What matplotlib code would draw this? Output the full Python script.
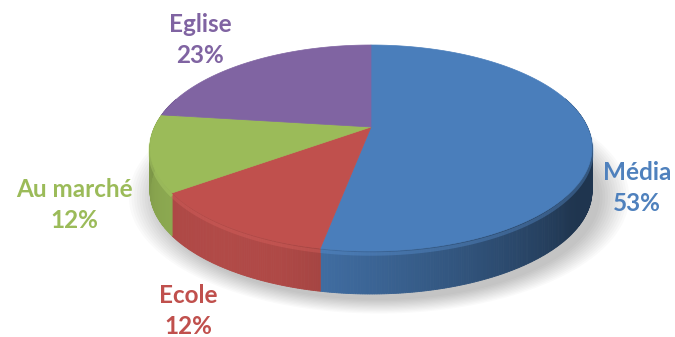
import numpy as np
import matplotlib
matplotlib.use("Agg")
import matplotlib.pyplot as plt
from matplotlib.patches import Polygon
from matplotlib.colors import to_rgb

# ---- data ----
categories = ["Média", "Ecole", "Au marché", "Eglise"]
values = [53, 12, 12, 23]
colors = ["#4A7EBB", "#C0504D", "#9BBB59", "#8064A2"]
label_colors = ["#4F81BD", "#C0504D", "#9BBB59", "#8064A2"]

# ---- layout ----
W, H = 675, 337
cx, cy, rx, ry = 371, 148, 221, 103
t = 0.204          # perspective shift of the pie centre
depth = 43
label_pos = [(637, 188), (188, 311), (74, 205), (200, 40)]

fig = plt.figure(figsize=(W / 100, H / 100), dpi=100)
ax = fig.add_axes([0, 0, 1, 1])
ax.set_xlim(0, W)
ax.set_ylim(H, 0)
ax.axis("off")

s = np.sqrt(1 - t * t)


def proj(theta_deg, r=1.0, dy=0.0):
    th = np.radians(theta_deg)
    u = r * np.cos(th)
    v = r * np.sin(th)
    den = 1 + t * v
    vp = (v + t) / den
    up = u * s / den
    return cx + rx * up, cy - ry * vp + dy


# soft shadow
for k in range(12):
    a = 0.018
    sc = 1.0 + k * 0.012
    th = np.linspace(0, 360, 200)
    xs, ys = proj(th)
    xs = cx + 8 + (xs - cx) * sc
    ys = cy + depth + 6 + (ys - cy) * sc
    ax.add_patch(Polygon(np.c_[xs, ys], closed=True, color="black", alpha=a, lw=0, zorder=0))

total = sum(values)
start = 90.0
wedges = []
for val, col in zip(values, colors):
    sweep = 360.0 * val / total
    wedges.append((start, start - sweep, col))
    start -= sweep

# sides
for a0, a1, col in wedges:
    base = np.array(to_rgb(col))
    ths = np.linspace(a0, a1, max(int(abs(a1 - a0) * 2), 4))
    for i in range(len(ths) - 1):
        tA, tB = ths[i], ths[i + 1]
        mid = np.radians(0.5 * (tA + tB))
        if np.sin(mid) > 0.3:
            continue
        # light from front-left
        shade = 0.62 + 0.30 * max(0, np.cos(mid - np.radians(235)))
        shade -= 0.20 * max(0, np.cos(mid - np.radians(-20)))
        c = np.clip(base * shade, 0, 1)
        xa, ya = proj(tA)
        xb, yb = proj(tB)
        poly = [(xa, ya), (xb, yb), (xb, yb + depth), (xa, ya + depth)]
        ax.add_patch(Polygon(poly, closed=True, facecolor=c, edgecolor=c, lw=0.6, zorder=2))
    # highlight rim
    xs, ys = proj(ths)
    ax.plot(xs, ys + 3, color=np.clip(base * 1.1 + 0.05, 0, 1), lw=2.5, alpha=0.35, zorder=3,
            solid_capstyle="butt")

# tops
for a0, a1, col in wedges:
    ths = np.linspace(a0, a1, 120)
    xs, ys = proj(ths)
    x0, y0 = proj(0, r=0)
    pts = np.vstack([[x0, y0], np.c_[xs, ys]])
    ax.add_patch(Polygon(pts, closed=True, facecolor=col, edgecolor=col, lw=0.5, zorder=4))

# labels
for name, val, lc, (lx, ly) in zip(categories, values, label_colors, label_pos):
    ax.text(lx, ly, f"{name}\n{val}%", color=lc, ha="center", va="center",
            fontsize=17.5, fontweight="bold", family="Lato", linespacing=1.45, zorder=6)

fig.savefig("out.png", dpi=100)
